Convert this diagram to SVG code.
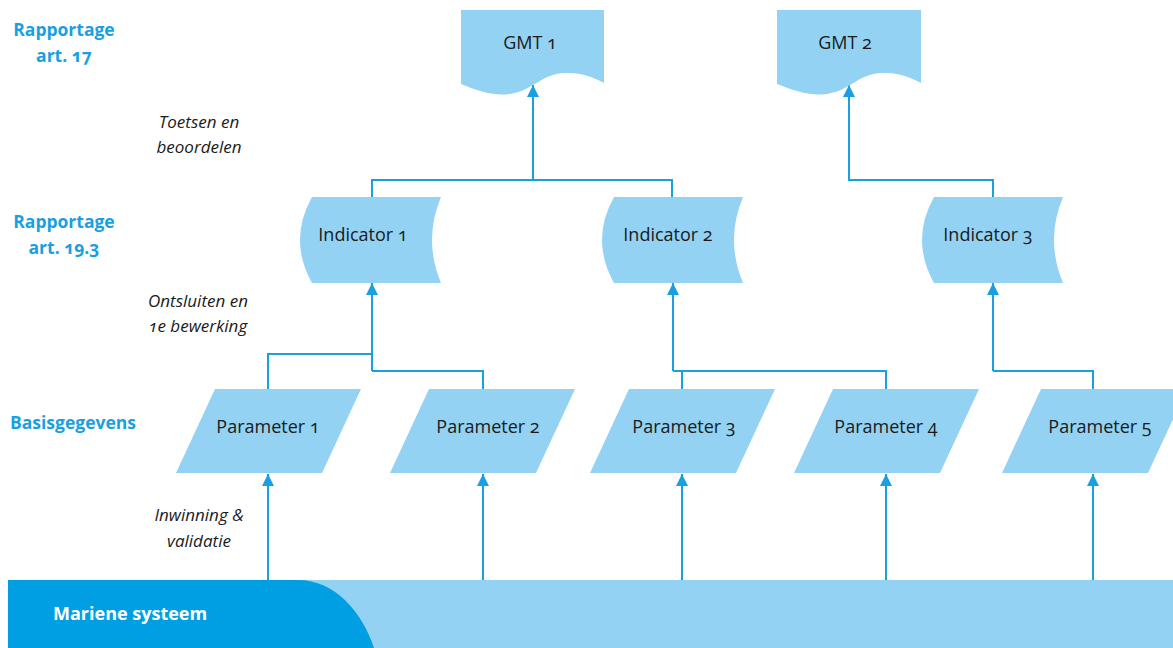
<svg xmlns="http://www.w3.org/2000/svg" width="1173" height="648" viewBox="0 0 1173 648">
<style>
.node{fill:#93d2f3}
.nt{font-family:"Open Sans",Lato,sans-serif;font-size:18px;fill:#1a1a1a;text-anchor:middle;font-variant-numeric:oldstyle-nums}
.lbl{font-family:"Open Sans",Lato,sans-serif;font-size:17.5px;font-weight:bold;fill:#1a9fe0;text-anchor:middle;font-variant-numeric:oldstyle-nums}
.it{font-family:"Open Sans",Lato,sans-serif;font-size:17px;font-style:italic;fill:#1a1a1a;text-anchor:middle;font-variant-numeric:oldstyle-nums}
.c{fill:none;stroke:#1a9fe0;stroke-width:2}
</style>
<defs>
<marker id="ah" viewBox="0 0 12 12" refX="12" refY="6" markerWidth="12" markerHeight="12" markerUnits="userSpaceOnUse" orient="auto">
<path d="M0,0 L12,6 L0,12 Z" fill="#1a9fe0"/>
</marker>
</defs>
<rect width="1173" height="648" fill="#fff"/>

<g id="band">
<rect x="8" y="580" width="1165" height="68" fill="#93d2f3"/>
<path d="M8,580 H298 C335,580 362,612 374,648 H8 Z" fill="#009fe3"/>
<text x="53" y="620" style="font-family:'Open Sans',Lato,sans-serif;font-size:18px;font-weight:bold;fill:#fff">Mariene systeem</text>
</g>

<g id="labels">
<text class="lbl" x="64" y="36">Rapportage</text>
<text class="lbl" x="64" y="62">art. 17</text>
<text class="lbl" x="64" y="228">Rapportage</text>
<text class="lbl" x="64" y="254">art. 19.3</text>
<text class="lbl" x="10" y="429" style="text-anchor:start">Basisgegevens</text>
<text class="it" x="199" y="128">Toetsen en</text>
<text class="it" x="199" y="153">beoordelen</text>
<text class="it" x="198" y="307">Ontsluiten en</text>
<text class="it" x="198" y="332">1e bewerking</text>
<text class="it" x="199" y="521">Inwinning &amp;</text>
<text class="it" x="199" y="547">validatie</text>
</g>

<g id="connectors">
<path class="c" d="M268,580 V474" marker-end="url(#ah)"/>
<path class="c" d="M483,580 V474" marker-end="url(#ah)"/>
<path class="c" d="M682,580 V474" marker-end="url(#ah)"/>
<path class="c" d="M886,580 V474" marker-end="url(#ah)"/>
<path class="c" d="M1093,580 V474" marker-end="url(#ah)"/>
<path class="c" d="M268,389 V354 H372"/>
<path class="c" d="M483,389 V371 H372"/>
<path class="c" d="M372,371 V283" marker-end="url(#ah)"/>
<path class="c" d="M682,389 V371"/>
<path class="c" d="M886,389 V371 H673"/>
<path class="c" d="M673,371 V283" marker-end="url(#ah)"/>
<path class="c" d="M1093,389 V371 H993"/>
<path class="c" d="M993,371 V283" marker-end="url(#ah)"/>
<path class="c" d="M372,197 V180 H672 V197"/>
<path class="c" d="M533,180 V85" marker-end="url(#ah)"/>
<path class="c" d="M993,197 V180 H849 V85" marker-end="url(#ah)"/>
</g>

<g id="gmt1">
<path class="node" d="M461,10 H604 V83 C598,80 585,72 565,73 C540,74 535,90 510,94 C495,96 480,92 461,84 Z"/>
<text class="nt" x="530" y="49">GMT 1</text>
</g>
<g id="gmt2">
<path class="node" d="M777,10 H921 V83 C915,80 902,72 882,73 C857,74 852,90 827,94 C812,96 797,92 777,84 Z"/>
<text class="nt" x="845" y="49">GMT 2</text>
</g>

<g id="indicator1">
<path class="node" d="M312,197 H441 Q423,240 441,283 H312 Q288,240 312,197 Z"/>
<text class="nt" x="363" y="241">Indicator 1</text>
</g>
<g id="indicator2">
<path class="node" d="M614,197 H743 Q725,240 743,283 H614 Q590,240 614,197 Z"/>
<text class="nt" x="668" y="241">Indicator 2</text>
</g>
<g id="indicator3">
<path class="node" d="M934,197 H1063 Q1045,240 1063,283 H934 Q910,240 934,197 Z"/>
<text class="nt" x="988" y="241">Indicator 3</text>
</g>

<g id="parameter1">
<polygon class="node" points="215,389 361,389 322,473 176,473"/>
<text class="nt" x="268" y="433">Parameter 1</text>
</g>
<g id="parameter2">
<polygon class="node" points="429,389 575,389 536,473 390,473"/>
<text class="nt" x="488" y="433">Parameter 2</text>
</g>
<g id="parameter3">
<polygon class="node" points="629,389 775,389 736,473 590,473"/>
<text class="nt" x="684" y="433">Parameter 3</text>
</g>
<g id="parameter4">
<polygon class="node" points="833,389 979,389 940,473 794,473"/>
<text class="nt" x="886" y="433">Parameter 4</text>
</g>
<g id="parameter5">
<polygon class="node" points="1041,389 1187,389 1148,473 1002,473"/>
<text class="nt" x="1100" y="433">Parameter 5</text>
</g>
</svg>
